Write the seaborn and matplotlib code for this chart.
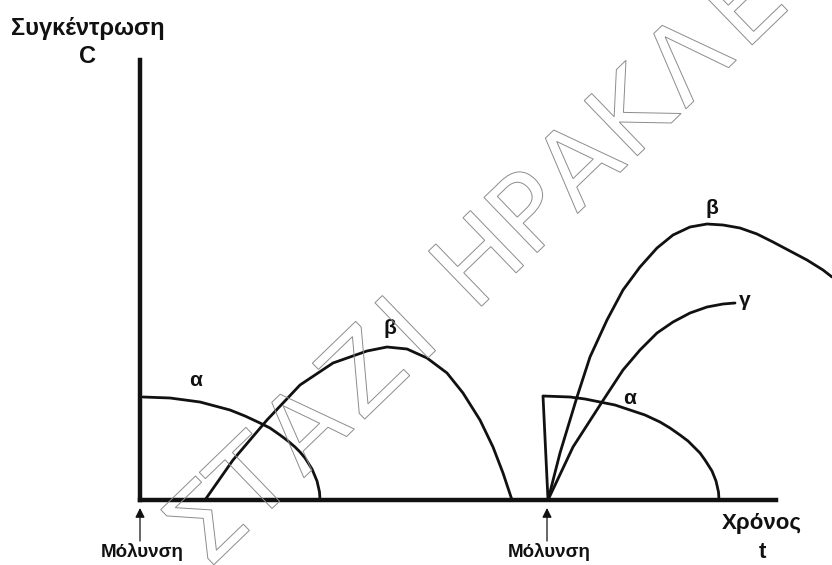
import matplotlib
matplotlib.use("Agg")
import numpy as np
import matplotlib.pyplot as plt
import seaborn as sns
from matplotlib.textpath import TextPath, TextToPath
from matplotlib.patches import PathPatch
from matplotlib.font_manager import FontProperties
from matplotlib.transforms import Affine2D, IdentityTransform

# ---- data (schematic units: time t, concentration C) ----
alpha1_t = [3, 30, 45, 60, 75, 90, 105, 120, 130, 140, 148, 155, 160, 165, 172, 177, 179.5, 180]
alpha1_c = [103, 102, 100, 98, 94, 90, 84, 77, 72, 65, 59, 53, 48, 42, 31, 19, 8, 0]

beta1_t = [65, 93, 127, 160, 193, 227, 247, 267, 287, 307, 323, 340, 353, 363, 372]
beta1_c = [0, 40, 80, 115, 137, 149, 153, 151, 142, 127, 107, 80, 53, 27, 0]

alpha2_t = [408, 403, 430, 445, 460, 475, 490, 505, 520, 530, 540, 548, 555, 560, 565, 572, 576, 578.5, 579]
alpha2_c = [0, 104, 103, 101, 98, 95, 90, 85, 78, 72, 65, 59, 52, 47, 40, 29, 19, 8, 0]

beta2_t = [408, 420, 437, 450, 467, 483, 500, 517, 533, 550, 567, 583, 600, 617, 633, 650, 667, 683, 692]
beta2_c = [0, 47, 103, 143, 180, 210, 233, 252, 265, 273, 276, 275, 272, 266, 258, 249, 240, 230, 223]

gamma_t = [408, 433, 462, 483, 500, 517, 533, 550, 567, 583, 595]
gamma_c = [0, 53, 98, 130, 150, 167, 178, 187, 193, 196, 197]

curve_labels = ["α", "β", "α", "β", "γ"]
label_t = [56, 250, 490, 572, 605]
label_c = [119, 172, 102, 292, 200]

pollution_t = [0, 407]
pollution_label = "Μόλυνση"
y_title = "Συγκέντρωση"
y_symbol = "C"
x_title = "Χρόνος"
x_symbol = "t"
watermark = "ΣΤΑΖΙ ΗΡΑΚΛΕΙΟΥ"

# ---- figure ----
sns.set_theme(style="white")
plt.rcParams["font.family"] = ["Liberation Sans", "DejaVu Sans"]

W, H = 832, 565
fig = plt.figure(figsize=(W / 100, H / 100), dpi=100, facecolor="white")
ax = fig.add_axes([140 / W, 65 / H, 692 / W, 440 / H])
ax.set_facecolor("none")
ax.set_xlim(0, 692)
ax.set_ylim(0, 440)

for tt, cc in [(alpha1_t, alpha1_c), (beta1_t, beta1_c), (alpha2_t, alpha2_c),
               (beta2_t, beta2_c), (gamma_t, gamma_c)]:
    sns.lineplot(x=tt, y=cc, sort=False, estimator=None, color="#111111",
                 lw=2.0, ax=ax, clip_on=False)
for ln in ax.lines:
    ln.set_solid_joinstyle("round")

for lab, tx, cy in zip(curve_labels, label_t, label_c):
    ax.text(tx, cy, lab, ha="center", va="center", fontsize=15,
            fontweight="bold", color="#111111")

for sp in ["top", "right"]:
    ax.spines[sp].set_visible(False)
for sp in ["left", "bottom"]:
    ax.spines[sp].set_linewidth(3.2)
    ax.spines[sp].set_color("#111111")
ax.spines["bottom"].set_bounds(0, 636)
ax.set_xticks([])
ax.set_yticks([])

ax.text(-52.5, 472, y_title, ha="center", va="center", fontsize=17,
        fontweight="bold", color="#111111", clip_on=False)
ax.text(-52.5, 444, y_symbol, ha="center", va="center", fontsize=17,
        fontweight="bold", color="#111111", clip_on=False)
ax.text(622, -24, x_title, ha="center", va="center", fontsize=16,
        fontweight="bold", color="#111111", clip_on=False)
ax.text(622, -52, x_symbol, ha="center", va="center", fontsize=16,
        fontweight="bold", color="#111111", clip_on=False)

for pt in pollution_t:
    ax.annotate("", xy=(pt, -8), xytext=(pt, -41), xycoords="data",
                annotation_clip=False,
                arrowprops=dict(arrowstyle="-|>", lw=0.9, color="#111111",
                                mutation_scale=14, shrinkA=0, shrinkB=0))
    ax.text(pt + 2, -52, pollution_label, ha="center", va="center", fontsize=13.5,
            fontweight="bold", color="#111111", clip_on=False)

# ---- outlined diagonal watermark (one glyph at a time, with tracking) ----
wm_size = 105
wm_track = 5.0
wm_angle = 44.0
wm_start = (205.0, H - 520.0)          # display position of first glyph centre
wm_prop = FontProperties(family="DejaVu Sans", size=wm_size)
t2p = TextToPath()

def _width(s):
    return t2p.get_text_width_height_descent(s, wm_prop, ismath=False)[0]

ca, sa = np.cos(np.radians(wm_angle)), np.sin(np.radians(wm_angle))
centres = []
for i, ch in enumerate(watermark):
    if ch == " ":
        continue
    gp = TextPath((0, 0), ch, size=wm_size, prop=wm_prop)
    ext = gp.get_extents()
    gw = ext.x1 - ext.x0
    centres.append((i, ch, gp, ext, _width(watermark[:i + 1]) - gw / 2.0))
s0 = centres[0][4]
for i, ch, gp, ext, c in centres:
    s = c - s0 + i * wm_track
    X = wm_start[0] + s * ca
    Y = wm_start[1] + s * sa
    tr = (Affine2D().translate(-(ext.x0 + ext.x1) / 2.0, -0.365 * wm_size)
          .rotate_deg(wm_angle).translate(X, Y)) + IdentityTransform()
    patch = PathPatch(gp, facecolor="none", edgecolor="#8c8c8c", lw=0.7,
                      transform=tr, zorder=5)
    patch.set_figure(fig)
    fig.patches.append(patch)

fig.savefig("out.png", dpi=100, facecolor="white")
